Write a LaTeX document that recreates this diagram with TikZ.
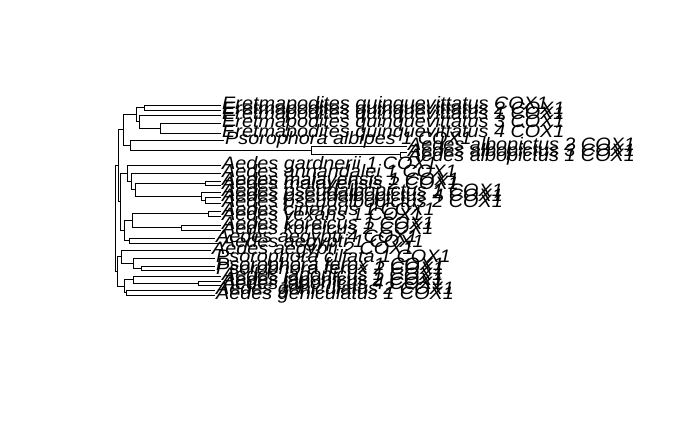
\documentclass[tikz,border=0pt]{standalone}
\usepackage{fontspec}
\setmainfont[FakeStretch=1.1]{Liberation Sans}
\begin{document}
\begin{tikzpicture}[x=1pt,y=-1pt,
  edge/.style={draw=black,line width=1pt},
  lab/.style={anchor=base west,inner sep=0pt,xshift=1pt,yshift=-4pt,
    font=\fontsize{18}{20}\selectfont\itshape,text=black}]
\useasboundingbox (0,0) rectangle (690,426);
% ---------- internal nodes ----------
\coordinate (R) at (115.5,218.6);
\coordinate (U) at (118,165.9);
\coordinate (T) at (123,129.9);
\coordinate (E) at (136,114.5);
\coordinate (E1) at (144,107.5);
\coordinate (E2) at (139,121.5);
\coordinate (E3) at (160,128);
\coordinate (P) at (130,145.25);
\coordinate (Alb) at (311,150.5);
\coordinate (AlbB) at (400,154);
\coordinate (M) at (120,201.8);
\coordinate (M1) at (127,173.1);
\coordinate (M1a) at (131,181.25);
\coordinate (M1b) at (135,189.5);
\coordinate (M1c) at (205,183);
\coordinate (M1d) at (201,196);
\coordinate (M1e) at (205,200);
\coordinate (M2) at (124,230.5);
\coordinate (M2a) at (132,220.5);
\coordinate (M2b) at (129,240.5);
\coordinate (M2c) at (208,213.5);
\coordinate (M2d) at (181,227.5);
\coordinate (L) at (117,271.25);
\coordinate (L1) at (121,256.5);
\coordinate (L1a) at (133,263);
\coordinate (L1b) at (141,268);
\coordinate (L2) at (124,286);
\coordinate (L2a) at (133,279.5);
\coordinate (L2b) at (126,292.5);
\coordinate (L2c) at (198,283);
% ---------- tips ----------
\coordinate (e1) at (221,105);
\coordinate (e2) at (221,110);
\coordinate (e3) at (221,115);
\coordinate (e4) at (221,123);
\coordinate (e5) at (221,133);
\coordinate (p1) at (224,140);
\coordinate (a1) at (407,146);
\coordinate (a2) at (407,152);
\coordinate (a3) at (407,157);
\coordinate (m1) at (221,165);
\coordinate (m2) at (221,173);
\coordinate (m3) at (221,181);
\coordinate (m4) at (221,185);
\coordinate (m5) at (221,192);
\coordinate (m6) at (221,197);
\coordinate (m7) at (221,203);
\coordinate (m8) at (221,211);
\coordinate (m9) at (221,216);
\coordinate (m10) at (221,225);
\coordinate (m11) at (221,230);
\coordinate (m12) at (215,238);
\coordinate (m13) at (221,243);
\coordinate (b1) at (211,250);
\coordinate (b2) at (215,258);
\coordinate (b3) at (215,266);
\coordinate (b4) at (215,270);
\coordinate (b5) at (221,276);
\coordinate (b6) at (221,281);
\coordinate (b7) at (221,285);
\coordinate (b8) at (215,290);
\coordinate (b9) at (215,295);
% ---------- edges ----------
\draw[edge] (R) |- (U) (R) |- (L);
\draw[edge] (U) |- (T) (U) |- (M);
\draw[edge] (T) |- (E) (T) |- (P);
\draw[edge] (E) |- (E1) (E) |- (E2);
\draw[edge] (E1) |- (e1) (E1) |- (e2);
\draw[edge] (E2) |- (e3) (E2) |- (E3);
\draw[edge] (E3) |- (e4) (E3) |- (e5);
\draw[edge] (P) |- (p1) (P) |- (Alb);
\draw[edge] (Alb) |- (a1) (Alb) |- (AlbB);
\draw[edge] (AlbB) |- (a2) (AlbB) |- (a3);
\draw[edge] (M) |- (M1) (M) |- (M2);
\draw[edge] (M1) |- (m1) (M1) |- (M1a);
\draw[edge] (M1a) |- (m2) (M1a) |- (M1b);
\draw[edge] (M1b) |- (M1c) (M1b) |- (M1d);
\draw[edge] (M1c) |- (m3) (M1c) |- (m4);
\draw[edge] (M1d) |- (m5) (M1d) |- (M1e);
\draw[edge] (M1e) |- (m6) (M1e) |- (m7);
\draw[edge] (M2) |- (M2a) (M2) |- (M2b);
\draw[edge] (M2a) |- (M2c) (M2a) |- (M2d);
\draw[edge] (M2c) |- (m8) (M2c) |- (m9);
\draw[edge] (M2d) |- (m10) (M2d) |- (m11);
\draw[edge] (M2b) |- (m12) (M2b) |- (m13);
\draw[edge] (L) |- (L1) (L) |- (L2);
\draw[edge] (L1) |- (b1) (L1) |- (L1a);
\draw[edge] (L1a) |- (b2) (L1a) |- (L1b);
\draw[edge] (L1b) |- (b3) (L1b) |- (b4);
\draw[edge] (L2) |- (L2a) (L2) |- (L2b);
\draw[edge] (L2a) |- (b5) (L2a) |- (L2c);
\draw[edge] (L2c) |- (b6) (L2c) |- (b7);
\draw[edge] (L2b) |- (b8) (L2b) |- (b9);
% ---------- labels ----------
\node[lab] (le1) at (e1) {Eretmapodites quinquevittatus COX1};
\node[lab] (le2) at (e2) {Eretmapodites quinquevittatus 2 COX1};
\node[lab] (le3) at (e3) {Eretmapodites quinquevittatus 1 COX1};
\node[lab] (le4) at (e4) {Eretmapodites quinquevittatus 3 COX1};
\node[lab] (le5) at (e5) {Eretmapodites quinquevittatus 4 COX1};
\node[lab] (lp1) at (p1) {Psorophora albipes 1 COX1};
\node[lab] (la1) at (a1) {Aedes albopictus 2 COX1};
\node[lab] (la2) at (a2) {Aedes albopictus 3 COX1};
\node[lab] (la3) at (a3) {Aedes albopictus 1 COX1};
\node[lab] (lm1) at (m1) {Aedes gardnerii 1 COX1};
\node[lab] (lm2) at (m2) {Aedes annandalei 1 COX1};
\node[lab] (lm3) at (m3) {Aedes malayensis 1 COX1};
\node[lab] (lm4) at (m4) {Aedes malayensis 2 COX1};
\node[lab] (lm5) at (m5) {Aedes pseudalbopictus 1 COX1};
\node[lab] (lm6) at (m6) {Aedes pseudalbopictus 4 COX1};
\node[lab] (lm7) at (m7) {Aedes pseudalbopictus 2 COX1};
\node[lab] (lm8) at (m8) {Aedes cinereus 1 COX1};
\node[lab] (lm9) at (m9) {Aedes vexans 1 COX1};
\node[lab] (lm10) at (m10) {Aedes koreicus 1 COX1};
\node[lab] (lm11) at (m11) {Aedes koreicus 2 COX1};
\node[lab] (lm12) at (m12) {Aedes aegypti 4 COX1};
\node[lab] (lm13) at (m13) {Aedes aegypti 1 COX1};
\node[lab] (lb1) at (b1) {Aedes aegypti 2 COX1};
\node[lab] (lb2) at (b2) {Psorophora ciliata 1 COX1};
\node[lab] (lb3) at (b3) {Psorophora ferox 1 COX1};
\node[lab] (lb4) at (b4) {Psorophora ferox 2 COX1};
\node[lab] (lb5) at (b5) {Aedes japonicus 1 COX1};
\node[lab] (lb6) at (b6) {Aedes japonicus 2 COX1};
\node[lab] (lb7) at (b7) {Aedes japonicus 4 COX1};
\node[lab] (lb8) at (b8) {Aedes geniculatus 2 COX1};
\node[lab] (lb9) at (b9) {Aedes geniculatus 1 COX1};
\end{tikzpicture}
\end{document}
